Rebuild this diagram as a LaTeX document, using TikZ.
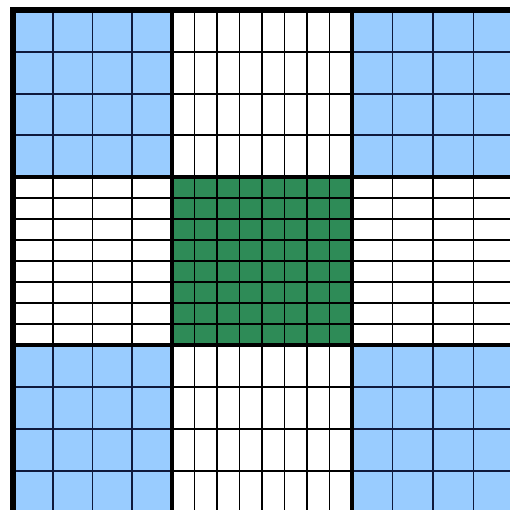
\documentclass[tikz,border=0pt]{standalone}
\definecolor{cornerblue}{RGB}{153,204,255}
\definecolor{centergreen}{RGB}{46,139,87}
\definecolor{navyline}{RGB}{15,25,60}
\begin{document}
\begin{tikzpicture}[x=1pt,y=-1pt,
  gridline/.style={line width=1.9pt,black},
  cornerline/.style={line width=1.9pt,navyline},
  blockline/.style={line width=3.8pt,black},
  outerline/.style={line width=6pt,black}]
\useasboundingbox (0,0) rectangle (510,510);
\clip (0,0) rectangle (510,510);
% fills
\fill[cornerblue] (13,10.5) rectangle (172,177);
\fill[cornerblue] (352,10.5) rectangle (514,177);
\fill[cornerblue] (13,345) rectangle (172,513);
\fill[cornerblue] (352,345) rectangle (514,513);
\fill[centergreen] (172,177) rectangle (352,345);
% thin grid lines
\foreach \x in {52.75,92.5,132.25,194.5,217,239.5,262,284.5,307,329.5,392.5,433,473.5}
  \draw[gridline] (\x,10.5) -- (\x,513);
\foreach \y in {52.1,93.7,135.3,198,219,240,261,282,303,324,387,429,471}
  \draw[gridline] (13,\y) -- (514,\y);
% corner lines in navy
\foreach \x in {52.75,92.5,132.25,392.5,433,473.5}{
  \draw[cornerline] (\x,10.5) -- (\x,177);
  \draw[cornerline] (\x,345) -- (\x,513);
}
\foreach \y in {52.1,93.7,135.3,387,429,471}{
  \draw[cornerline] (13,\y) -- (172,\y);
  \draw[cornerline] (352,\y) -- (514,\y);
}
% block boundaries
\draw[blockline] (172,10.5) -- (172,513);
\draw[blockline] (352,10.5) -- (352,513);
\draw[blockline] (13,177) -- (514,177);
\draw[blockline] (13,345) -- (514,345);
% outer border
\draw[outerline] (13,513) -- (13,10.5) -- (514,10.5);
\draw[outerline] (514,10.5) -- (514,513) -- (13,513);
\end{tikzpicture}
\end{document}
